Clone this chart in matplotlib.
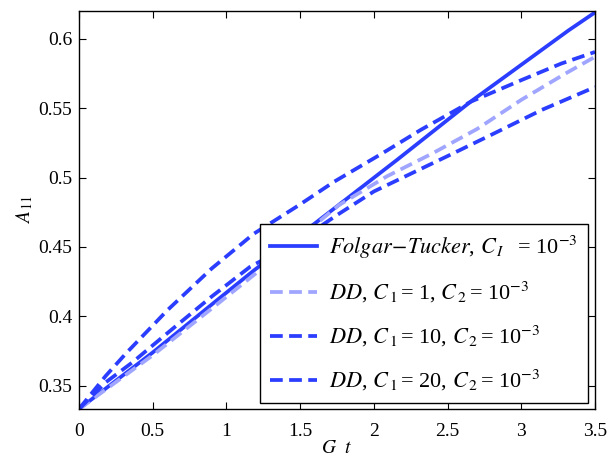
import numpy as np
import matplotlib
matplotlib.use('Agg')
import matplotlib.pyplot as plt

plt.rcParams['font.family'] = ['Liberation Serif', 'DejaVu Serif']
plt.rcParams['mathtext.fontset'] = 'stix'

# ----------------------------------------------------------------------
#  Data
# ----------------------------------------------------------------------
t_ft = [0.0, 0.5, 0.94, 1.185, 1.6, 2.16, 2.66, 3.32, 3.5]
a11_ft = [0.3333, 0.374, 0.412, 0.433, 0.467, 0.513, 0.555, 0.606, 0.619]

t_c1 = [0.0, 0.5, 0.94, 1.4, 1.76, 2.09, 2.39, 2.7, 3.0, 3.3, 3.5]
a11_c1 = [0.3333, 0.372, 0.409, 0.448, 0.480, 0.501, 0.517, 0.535, 0.556, 0.575, 0.587]

t_c10 = [0.0, 0.18, 0.32, 0.6, 0.9, 1.185, 1.49, 1.73, 2.05, 2.32, 2.66, 3.0, 3.27, 3.5]
a11_c10 = [0.3333, 0.357, 0.3735, 0.4045, 0.4345, 0.4595, 0.480, 0.497, 0.517, 0.5345, 0.5548, 0.5702, 0.5821, 0.5905]

t_c20 = [0.0, 0.18, 0.36, 0.6, 0.9, 1.16, 1.5, 1.75, 2.0, 2.5, 2.8, 3.14, 3.5]
a11_c20 = [0.3333, 0.3524, 0.3667, 0.388, 0.4143, 0.4357, 0.455, 0.473, 0.490, 0.5155, 0.531, 0.5488, 0.5652]

labels = [r'$Folgar\!-\!Tucker$, $C_{\,I}\;\;$ = 10$^{-3}$',
          r'$DD$, $C_{\,1}\,$= 1, $C_{\,2}\,$= 10$^{-3}$',
          r'$DD$, $C_{\,1}\,$= 10, $C_{\,2}\,$= 10$^{-3}$',
          r'$DD$, $C_{\,1}\,$= 20, $C_{\,2}\,$= 10$^{-3}$']

blue = '#2b3dff'
light = '#a0a6ff'

fig = plt.figure(figsize=(6.15, 4.59), dpi=100)
ax = fig.add_axes([0.1285, 0.109, 0.839, 0.867])

ax.plot(t_ft, a11_ft, '-', color=blue, lw=2.7, label=labels[0])
ax.plot(t_c1, a11_c1, '--', color=light, lw=2.7, dashes=(3.4, 1.7), label=labels[1])
ax.plot(t_c10, a11_c10, '--', color=blue, lw=2.7, dashes=(3.4, 1.7), label=labels[2])
ax.plot(t_c20, a11_c20, '--', color=blue, lw=2.7, dashes=(3.4, 1.7), label=labels[3])

ax.set_xlim(0, 3.5)
ax.set_ylim(0.3333, 0.62)
ax.set_xticks([0, 0.5, 1, 1.5, 2, 2.5, 3, 3.5])
ax.set_xticklabels(['0', '0.5', '1', '1.5', '2', '2.5', '3', '3.5'])
ax.set_yticks([0.35, 0.4, 0.45, 0.5, 0.55, 0.6])
ax.set_yticklabels(['0.35', '0.4', '0.45', '0.5', '0.55', '0.6'])
ax.tick_params(direction='in', top=True, right=True, labelsize=14, length=5, pad=5)
ax.tick_params(axis='x', pad=10)
for s in ax.spines.values():
	s.set_linewidth(1.0)

ax.set_xlabel(r'$G\ \ t$', fontsize=14, labelpad=0)
ax.set_ylabel(r'$A_{\,11}$', fontsize=14, labelpad=2)

leg = ax.legend(loc='lower right', bbox_to_anchor=(0.986, 0.015), fontsize=16,
	fancybox=False, framealpha=1, edgecolor='black', handlelength=2.1,
	handletextpad=0.55, borderpad=0.45, labelspacing=0.85, borderaxespad=0)
leg.get_frame().set_linewidth(1.0)

fig.savefig('out.png', dpi=100)
